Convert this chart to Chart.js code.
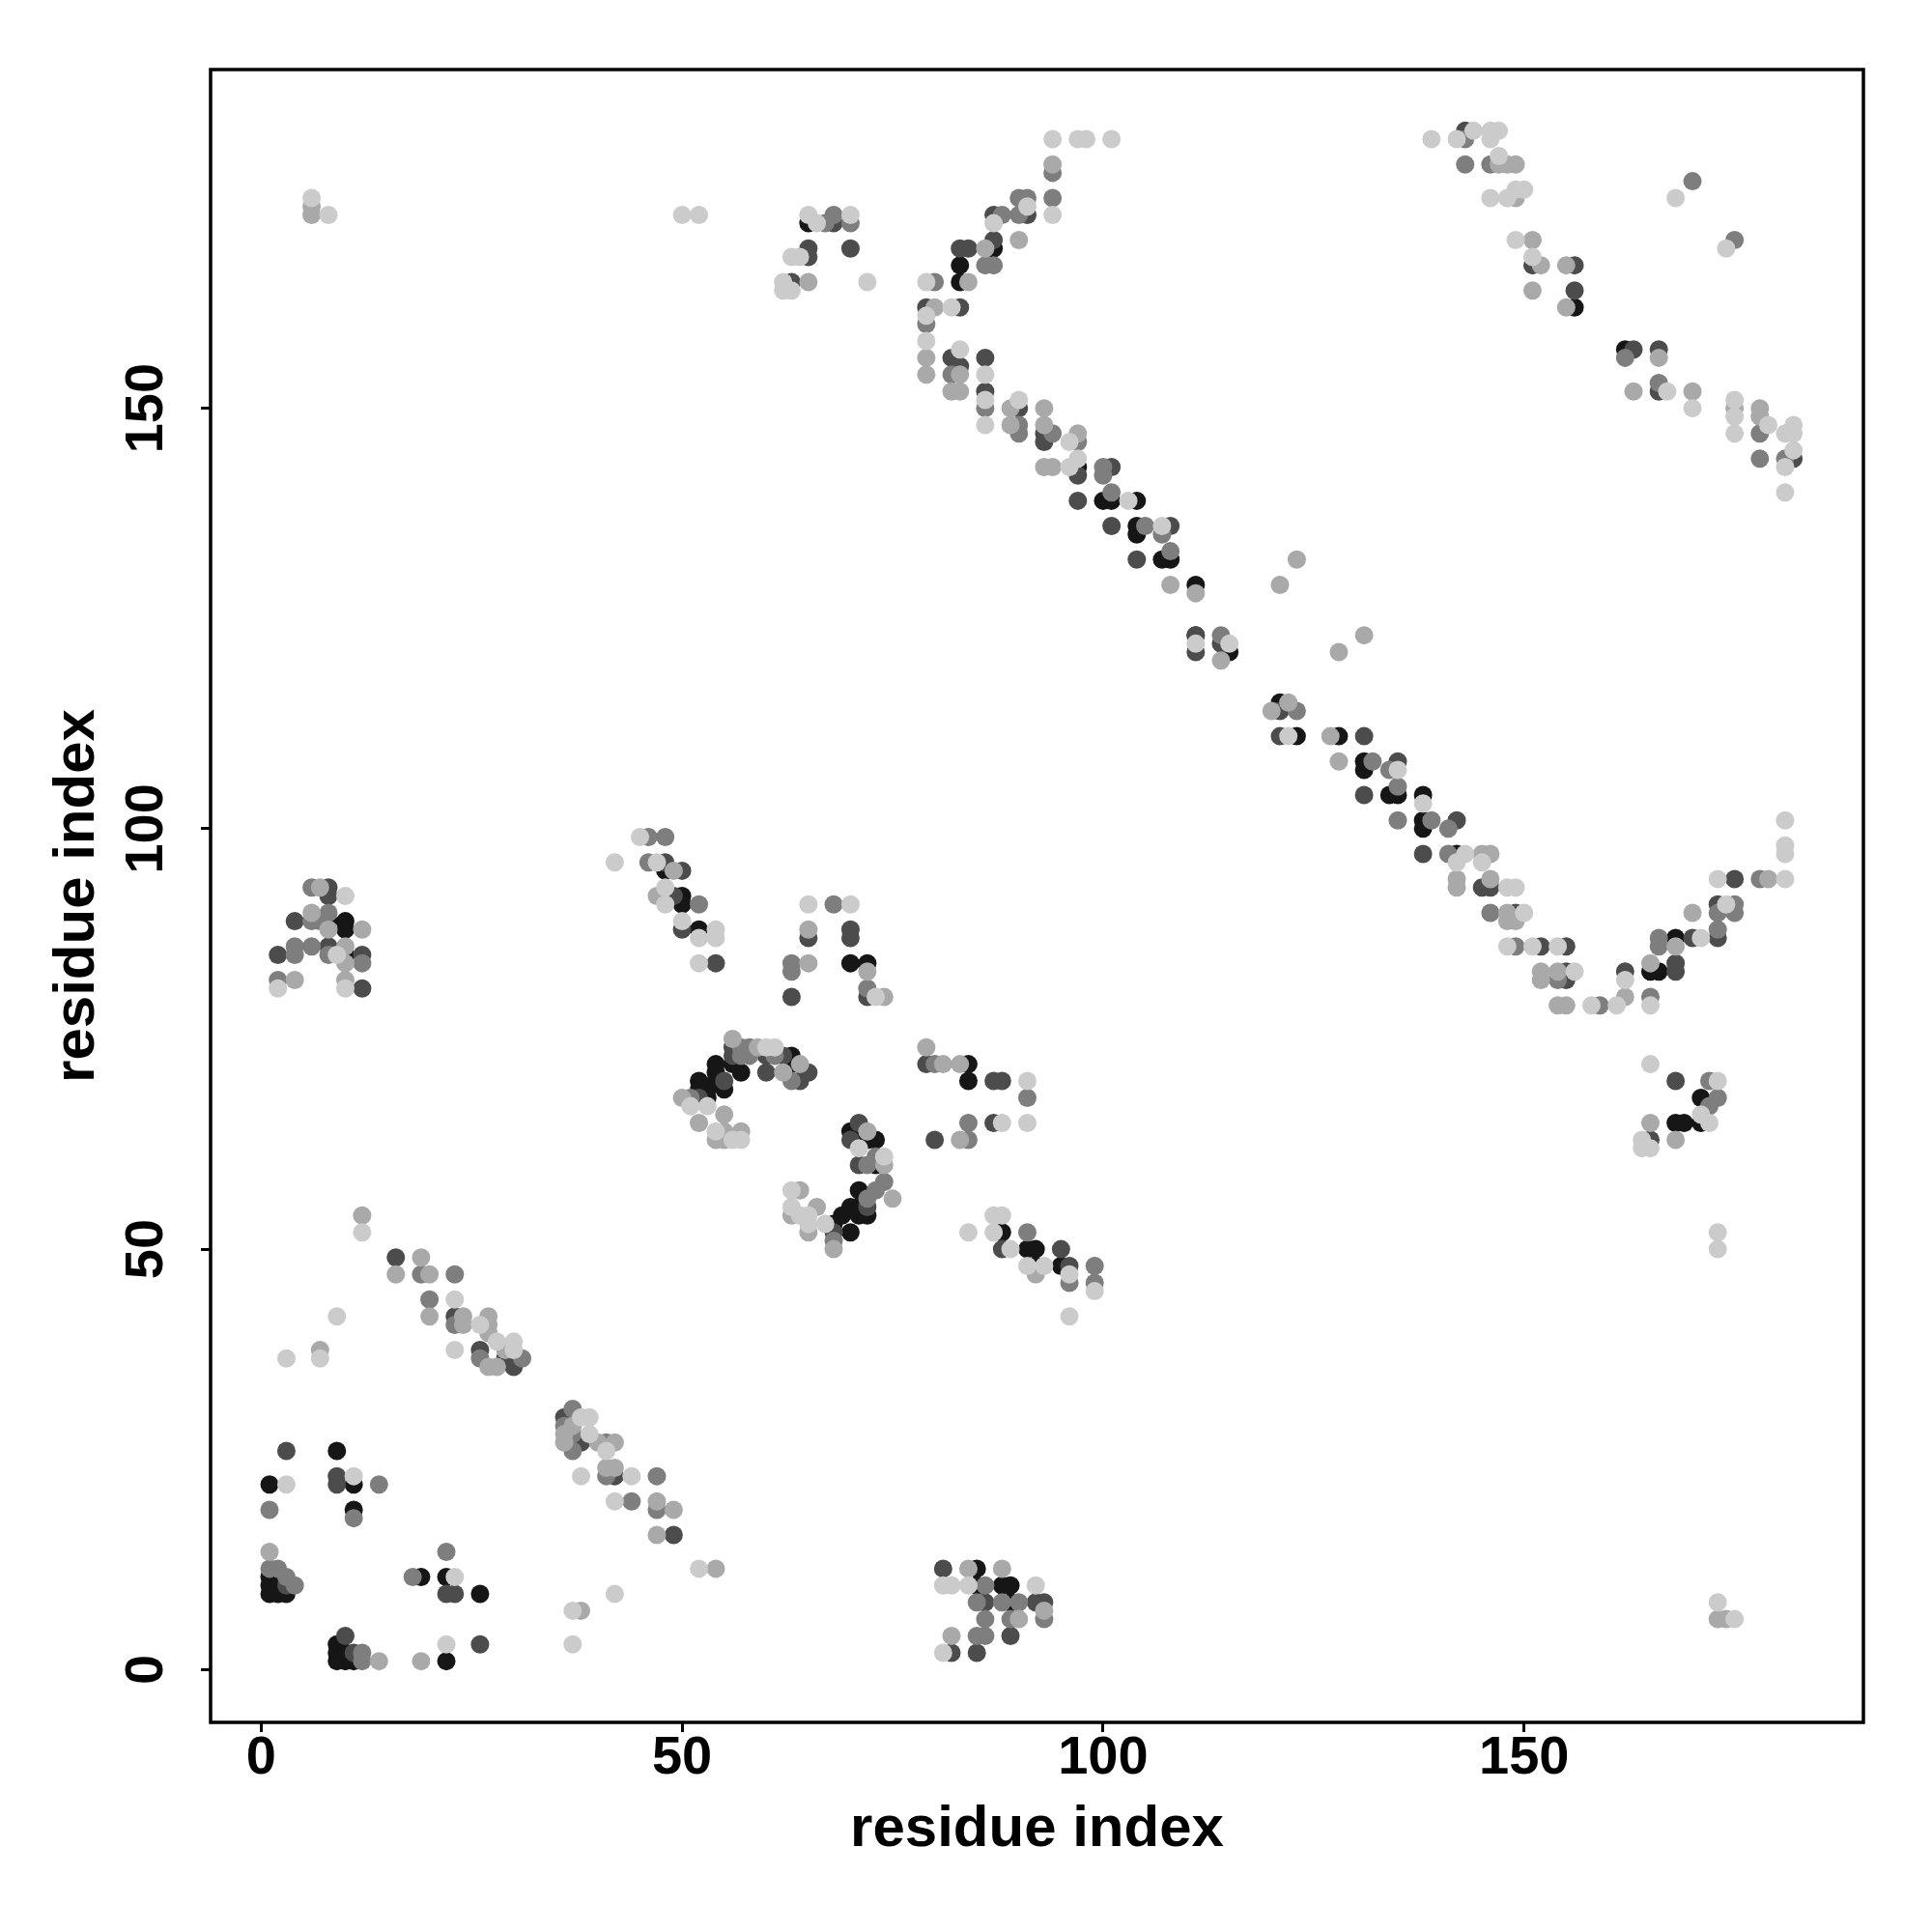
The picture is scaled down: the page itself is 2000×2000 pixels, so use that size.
<!DOCTYPE html>
<html>
<head>
<meta charset="utf-8">
<script src="https://cdn.jsdelivr.net/npm/chart.js@4.4.1/dist/chart.umd.min.js"></script>
<style>
  html, body { margin: 0; padding: 0; background: #fff; }
  #wrap { width: 2000px; height: 2000px; }
</style>
</head>
<body>
<div id="wrap"><canvas id="contact-map" width="2000" height="2000"></canvas></div>
<script>
// contacts, grouped by gray level: [residue i, residue j]
const veryLight = [
  [12,52],[23,44],[26,41],[28,39],[30,39],[23,38],[30,38],[9,42],[3,37],[7,37],[38,30],[39,30],[39,28],[41,26],
  [38,23],[44,23],[42,20],[52,12],[42,9],[37,7],[37,3],[3,22],[11,23],[23,11],[22,3],
  [84,52],[87,54],[88,54],[87,52],[89,50],[91,48],[93,48],[96,47],[99,45],[96,42],[81,10],[82,10],[84,10],[92,10],[81,2],
  [173,52],[173,50],[173,8],[175,6],
  [10,92],[9,85],[2,81],[10,81],[45,99],[42,96],[47,96],[48,93],[48,91],[50,89],[52,87],[54,88],[54,87],[52,84],
  [60,74],[61,74],[51,67],[53,67],[54,64],[56,63],[57,63],[71,62],[74,61],[63,57],[63,55],[64,54],[65,53],[67,53],[65,54],
  [111,122],[115,122],[122,111],[65,91],[70,91],[73,80],[88,65],[91,65],[91,70],
  [135,107],[138,103],[143,97],[142,96],[145,96],[148,93],[149,93],[150,90],[148,86],[151,86],[154,86],[156,83],[158,79],
  [161,79],[162,82],[165,79],[171,87],[174,91],[173,94],[181,94],[181,101],[181,98],[181,97],[165,72],[173,70],[172,65],
  [171,66],[164,63],[164,62],[165,62],
  [94,182],[97,182],[98,182],[101,182],[94,173],[91,174],[87,172],[66,172],[65,173],[70,173],[63,168],[64,168],[62,165],
  [62,164],[63,164],[72,165],[79,165],[82,162],[79,161],[79,158],[83,157],[86,154],[86,151],[86,148],[90,151],[96,146],
  [96,143],[97,144],[103,139],[107,136],
  [139,182],[142,182],[144,183],[146,183],[147,183],[146,182],[147,180],[146,175],[148,175],[149,176],[150,176],[149,170],
  [151,168],[167,152],[170,150],[175,151],[175,149],[175,147],[179,148],[181,147],[182,148],[182,147],[182,145],[181,143],
  [181,140],[168,175],[174,169],
  [6,175],[8,173],[50,173],[52,173]
];
const light = [
  [12,54],[19,49],[16,47],[20,47],[20,42],[24,42],[24,41],[27,42],[27,41],[27,40],[27,36],[28,36],[29,38],[7,38],[37,29],
  [36,28],[36,27],[40,27],[42,27],[41,24],[42,24],[47,20],[49,19],[47,16],[54,12],[38,7],[1,14],[14,1],[19,1],
  [84,12],[88,12],[90,6],[93,7],[82,4],[92,47],
  [7,93],[6,90],[8,88],[12,88],[10,86],[10,84],[4,82],[10,82],[49,95],[47,92],
  [50,68],[56,75],[59,74],[62,71],[64,72],[72,64],[74,60],[75,56],[52,65],[54,63],[55,66],[55,64],[55,63],[57,64],[64,57],
  [63,54],[65,52],[66,55],[68,50],
  [65,88],[65,84],[72,83],[74,80],[79,74],[81,72],[83,72],[83,63],[114,120],[120,114],[122,115],
  [131,123],[128,121],[127,111],[128,108],[142,94],[142,93],[146,94],[145,97],[146,97],[148,90],[148,89],[149,89],[152,83],
  [152,82],[154,83],[154,79],[155,79],[162,80],[165,84],[168,86],[170,90],[165,65],[168,63],[179,94],
  [94,179],[90,170],[86,169],[84,165],[80,162],[79,156],[79,154],[83,154],[82,152],[83,152],[89,150],[89,148],[93,150],
  [93,148],[97,147],[93,143],[94,143],[108,129],[111,128],[123,132],[121,129],[65,165],
  [147,179],[148,179],[149,179],[149,175],[151,170],[152,167],[155,167],[151,164],[155,162],[163,152],[166,156],[170,152],
  [175,150],[178,150],[178,149],
  [6,174],[6,173],[173,6],[174,6]
];
const middle = [
  [19,47],[23,47],[20,44],[23,41],[26,37],[31,37],[37,31],[36,29],[37,28],[37,26],[41,27],[41,23],[47,23],[44,20],[47,19],
  [1,19],[11,18],[1,12],[2,12],[3,11],[4,10],[14,22],[22,14],[18,11],[12,2],[12,1],
  [91,52],[86,10],[85,8],[88,8],[90,8],[86,6],[89,6],[93,6],[85,4],[86,4],[99,48],[99,46],[96,46],
  [6,93],[6,89],[7,89],[8,90],[4,86],[4,85],[6,86],[8,85],[12,84],[2,82],[46,99],[48,99],[46,96],[52,91],
  [51,68],[57,74],[57,73],[58,74],[58,73],[61,73],[63,70],[73,61],[72,60],[74,58],[73,57],[72,56],[68,51],
  [114,123],[123,114],[68,91],[63,84],[63,83],[72,81],[80,72],[91,68],[84,65],[84,63],
  [132,108],[134,107],[135,105],[135,101],[139,101],[141,100],[141,97],[146,90],[149,86],[154,82],[159,79],[165,80],
  [166,87],[166,86],[173,88],[173,90],[175,91],[175,90],[178,94],[172,70],[173,68],[172,67],
  [67,172],[68,173],[70,172],[94,178],[94,175],[90,175],[91,175],[90,173],[88,173],[86,167],[87,167],[80,165],[79,160],
  [82,154],[86,150],[90,148],[90,147],[94,147],[97,146],[100,143],[100,142],[101,140],[105,136],[107,135],[108,133],
  [143,182],[143,179],[146,179],[162,156],[166,153],[178,147],[178,144],[181,144],[170,177],[175,170]
];
const dark = [
  [3,26],[9,23],[9,22],[22,9],[23,9],[10,4],[11,2],[26,3],[23,42],[26,38],[29,37],[30,36],[36,30],[38,27],[42,23],
  [49,16],[3,10],[16,49],
  [81,12],[82,2],[85,2],[86,8],[92,8],[93,8],[89,4],[88,50],[95,50],[96,48],
  [8,93],[8,92],[4,89],[8,86],[2,85],[12,85],[12,81],[48,96],[50,95],[49,92],[50,88],[54,84],
  [52,68],[55,70],[56,74],[56,73],[60,73],[60,71],[62,73],[64,70],[65,71],[71,65],[70,63],[71,60],[72,55],[68,52],
  [111,123],[111,121],[114,122],[121,114],[121,111],[65,87],[70,88],[70,87],[72,80],[63,80],[79,72],[87,70],[88,70],
  [87,65],[80,63],
  [131,111],[135,108],[131,104],[142,101],[138,97],[145,93],[146,93],[149,90],[152,86],[155,86],[155,83],[155,82],
  [162,83],[170,87],[168,84],[168,83],[173,87],[173,91],[175,94],[168,70],[165,63],
  [65,169],[65,168],[70,169],[68,172],[63,165],[91,173],[87,173],[87,170],[83,169],[84,169],[79,162],[83,162],[82,156],
  [83,155],[86,156],[86,152],[90,150],[93,147],[93,146],[97,142],[101,143],[97,139],[101,136],[108,136],[104,132],
  [143,183],[151,167],[156,167],[156,164],[163,157],[166,157],[166,152],[182,144]
];
const black = [
  [9,26],[1,22],[11,22],[11,19],[1,11],[1,10],[1,9],[2,10],[2,9],[3,9],[9,3],[9,2],[9,1],[10,2],[10,1],[11,1],
  [19,11],[22,11],[26,9],[22,1],
  [85,12],[85,10],[88,10],[89,10],[89,8],[88,52],[91,50],[92,50],[92,48],[95,48],
  [8,89],[10,89],[10,88],[10,85],[48,95],[48,92],[50,92],[50,91],[52,88],
  [52,70],[52,69],[53,68],[53,69],[54,72],[54,71],[54,70],[55,69],[56,72],[57,71],[63,73],[63,72],[70,64],[71,63],
  [72,63],[73,63],[73,60],[71,57],[71,55],[72,54],[70,55],[69,54],[70,52],[68,53],[71,54],
  [115,121],[121,115],[70,84],[72,84],[84,72],[84,70],
  [128,111],[123,111],[131,108],[131,107],[134,104],[135,104],[138,104],[138,101],[138,100],[142,97],[165,83],[166,83],
  [168,87],[171,68],[168,65],[169,65],[171,65],
  [65,172],[87,169],[83,167],[83,165],[97,143],[100,139],[101,139],[104,139],[104,136],[104,135],[107,132],[108,132],
  [111,129],[111,123],
  [162,157],[156,162]
];

const grayLevels = [veryLight, light, middle, dark, black];
const grayColors = ['#cbcbcb', '#a9a9a9', '#7e7e7e', '#4c4c4c', '#161616'];
const tickValues = [0, 50, 100, 150];

const tickFont = { family: "'Liberation Sans', Arial, sans-serif", size: 56, weight: 'bold' };
const titleFont = { family: "'Liberation Sans', Arial, sans-serif", size: 60, weight: 'bold' };

// frame round the plotting area, like R's box()
const boxPlugin = {
  id: 'box',
  afterDraw(chart) {
    const { ctx, chartArea: a } = chart;
    ctx.save();
    ctx.strokeStyle = '#000';
    ctx.lineWidth = 3.5;
    ctx.strokeRect(a.left, a.top, a.right - a.left, a.bottom - a.top);
    ctx.restore();
  }
};

const ctx = document.getElementById('contact-map').getContext('2d');
new Chart(ctx, {
  type: 'scatter',
  data: {
    datasets: grayLevels.map((pts, i) => ({
      data: pts.map(p => ({ x: p[0], y: p[1] })),
      backgroundColor: grayColors[i],
      borderWidth: 0,
      pointRadius: 9.5,
      pointHoverRadius: 9.5
    }))
  },
  options: {
    responsive: false,
    animation: false,
    devicePixelRatio: 1,
    layout: { padding: { top: 72, right: 71, left: 0, bottom: 0 } },
    plugins: { legend: { display: false }, tooltip: { enabled: false } },
    scales: {
      x: {
        type: 'linear',
        min: -6.0,
        max: 190.3,
        afterBuildTicks: s => { s.ticks = tickValues.map(v => ({ value: v })); },
        afterFit: s => { s.height = 217; },
        border: { display: false },
        grid: { drawOnChartArea: false, drawTicks: true, tickLength: 10, tickWidth: 3, tickColor: '#000' },
        ticks: { font: tickFont, color: '#000', padding: -6, maxRotation: 0, minRotation: 0 },
        title: { display: true, text: 'residue index', font: titleFont, color: '#000', padding: { top: 0, bottom: 70 } }
      },
      y: {
        type: 'linear',
        min: -6.28,
        max: 190.28,
        afterBuildTicks: s => { s.ticks = tickValues.map(v => ({ value: v })); },
        afterFit: s => { s.width = 218; },
        border: { display: false },
        grid: { drawOnChartArea: false, drawTicks: true, tickLength: 10, tickWidth: 3, tickColor: '#000' },
        ticks: { font: tickFont, color: '#000', padding: 9, minRotation: 90, maxRotation: 90, crossAlign: 'center' },
        title: { display: true, text: 'residue index', font: titleFont, color: '#000', padding: { top: 44, bottom: 0 } }
      }
    }
  },
  plugins: [boxPlugin]
});
</script>
</body>
</html>
